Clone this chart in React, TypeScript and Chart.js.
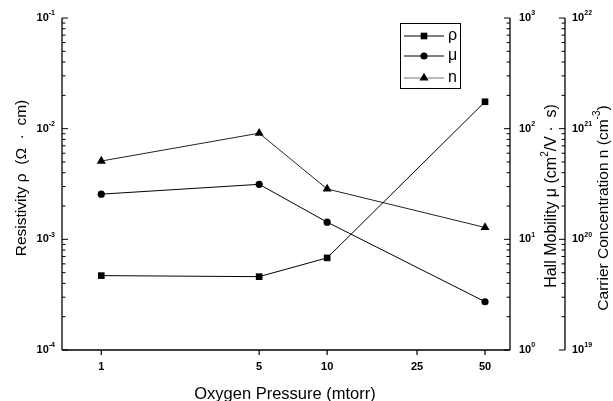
import React, { useEffect, useRef } from 'react';
import { Chart, registerables } from 'chart.js';

Chart.register(...registerables);

// ---- data ----
const pressures = [1, 5, 10, 50];
const xTickValues = [1, 5, 10, 25, 50];
const xTickLabels = ['1', '5', '10', '25', '50'];
const resistivity = [4.7e-4, 4.6e-4, 6.8e-4, 1.75e-2];
const mobility = [25.6, 31.4, 14.3, 2.73];
const carrier = [5.1e20, 9.1e20, 2.85e20, 1.28e20];
const leftExps = [-4, -3, -2, -1];
const mobExps = [0, 1, 2, 3];
const carrierExps = [19, 20, 21, 22];
const legendLabels = ['ρ', 'μ', 'n'];

const FONT = '"Liberation Sans", Arial, Helvetica, sans-serif';

type Seg = { t: string; sup?: boolean };

function drawRich(ctx: CanvasRenderingContext2D, segs: Seg[], x: number, y: number, size: number, align: 'left' | 'right' | 'center', rotate: boolean, bold = false) {
  const w = bold ? 'bold ' : '';
  const fN = `${w}${size}px ${FONT}`;
  const fS = `${w}${Math.round(size * 0.65)}px ${FONT}`;
  ctx.save();
  ctx.translate(x, y);
  if (rotate) ctx.rotate(-Math.PI / 2);
  let total = 0;
  const widths = segs.map((s) => {
    ctx.font = s.sup ? fS : fN;
    const m = ctx.measureText(s.t).width;
    total += m;
    return m;
  });
  let cx = align === 'left' ? 0 : align === 'right' ? -total : -total / 2;
  ctx.textAlign = 'left';
  ctx.textBaseline = 'middle';
  ctx.fillStyle = '#000';
  segs.forEach((s, i) => {
    ctx.font = s.sup ? fS : fN;
    ctx.fillText(s.t, cx, s.sup ? -size * 0.42 : 0);
    cx += widths[i];
  });
  ctx.restore();
}

function marker(ctx: CanvasRenderingContext2D, style: string, x: number, y: number) {
  ctx.beginPath();
  if (style === 'rect') {
    ctx.rect(x - 3.3, y - 3.3, 6.6, 6.6);
  } else if (style === 'circle') {
    ctx.arc(x, y, 3.6, 0, Math.PI * 2);
  } else {
    const r = 5.2;
    ctx.moveTo(x, y - r);
    ctx.lineTo(x + 0.866 * r, y + 0.5 * r);
    ctx.lineTo(x - 0.866 * r, y + 0.5 * r);
    ctx.closePath();
  }
  ctx.fill();
}

const axesPlugin = {
  id: 'axesPlugin',
  afterDraw(chart: any) {
    const ctx: CanvasRenderingContext2D = chart.ctx;
    const { left, right, top, bottom } = chart.chartArea;
    const sx = chart.scales.x;
    const sy = chart.scales.y;
    const sy1 = chart.scales.y1;
    const sy2 = chart.scales.y2;
    const y2x = sy2.left;
    ctx.save();
    ctx.strokeStyle = '#000';
    ctx.fillStyle = '#000';
    ctx.lineWidth = 1.3;
    const line = (a: number, b: number, c: number, d: number) => {
      ctx.beginPath();
      ctx.moveTo(a, b);
      ctx.lineTo(c, d);
      ctx.stroke();
    };
    line(left, top, left, bottom);
    line(left, bottom, right, bottom);
    line(right, top, right, bottom);
    line(y2x, top, y2x, bottom);

    const logTicks = (scale: any, ax: number, dir: number, exps: number[]) => {
      ctx.lineWidth = 1;
      exps.forEach((e, i) => {
        const p = scale.getPixelForValue(Math.pow(10, e));
        line(ax, p, ax + dir * 6, p);
        if (i < exps.length - 1) {
          for (let k = 2; k <= 9; k++) {
            const q = scale.getPixelForValue(k * Math.pow(10, e));
            line(ax, q, ax + dir * 3.5, q);
          }
        }
      });
    };
    logTicks(sy, left, 1, leftExps);
    logTicks(sy1, right, -1, mobExps);
    logTicks(sy2, y2x, -1, carrierExps);

    // x ticks
    ctx.lineWidth = 1.2;
    xTickValues.forEach((v, i) => {
      const p = sx.getPixelForValue(v);
      line(p, bottom, p, bottom + 5);
      drawRich(ctx, [{ t: xTickLabels[i] }], p, bottom + 17, 11, 'center', false, true);
    });

    // y tick labels
    leftExps.forEach((e) => {
      const p = sy.getPixelForValue(Math.pow(10, e));
      drawRich(ctx, [{ t: '10' }, { t: String(e), sup: true }], left - 7, p, 11, 'right', false, true);
    });
    mobExps.forEach((e) => {
      const p = sy1.getPixelForValue(Math.pow(10, e));
      drawRich(ctx, [{ t: '10' }, { t: String(e), sup: true }], right + 9, p, 11, 'left', false, true);
    });
    carrierExps.forEach((e) => {
      const p = sy2.getPixelForValue(Math.pow(10, e));
      drawRich(ctx, [{ t: '10' }, { t: String(e), sup: true }], y2x + 7, p, 11, 'left', false, true);
    });

    // titles
    drawRich(ctx, [{ t: 'Oxygen Pressure (mtorr)' }], 285, bottom + 44, 16.5, 'center', false);
    drawRich(ctx, [{ t: 'Resistivity ρ  (Ω  ·  cm)' }], 22, 178, 15.5, 'center', true);
    drawRich(ctx, [{ t: 'Hall Mobility μ (cm' }, { t: '2', sup: true }, { t: '/V ·  s)' }], 552, 196, 16, 'center', true);
    drawRich(ctx, [{ t: 'Carrier Concentration n (cm' }, { t: '-3', sup: true }, { t: ')' }], 604, 208, 15.5, 'center', true);

    // legend
    ctx.lineWidth = 1;
    ctx.strokeStyle = '#000';
    ctx.strokeRect(400.5, 23.5, 60, 65);
    const styles = ['rect', 'circle', 'triangle'];
    const colors = ['#000', '#000', '#777'];
    const ys = [36, 56, 78];
    styles.forEach((st, i) => {
      ctx.strokeStyle = colors[i];
      ctx.lineWidth = 1.2;
      line(404, ys[i], 444, ys[i]);
      ctx.fillStyle = '#000';
      marker(ctx, st, 424, ys[i]);
      drawRich(ctx, [{ t: legendLabels[i] }], 448, ys[i], 16, 'left', false);
    });
    ctx.restore();
  },
};

export default function App() {
  const ref = useRef<HTMLCanvasElement | null>(null);
  useEffect(() => {
    document.body.style.margin = '0';
    const canvas = ref.current;
    if (!canvas) return;
    const mk = (vals: number[]) => pressures.map((p, i) => ({ x: p, y: vals[i] }));
    const chart = new Chart(canvas, {
      type: 'line',
      data: {
        datasets: [
          {
            label: 'ρ',
            data: mk(resistivity),
            yAxisID: 'y',
            borderColor: '#000',
            backgroundColor: '#000',
            borderWidth: 1,
            pointStyle: 'rect',
            pointRadius: 4.7,
            pointBackgroundColor: '#000',
            pointBorderWidth: 0,
          },
          {
            label: 'μ',
            data: mk(mobility),
            yAxisID: 'y1',
            borderColor: '#000',
            backgroundColor: '#000',
            borderWidth: 1,
            pointStyle: 'circle',
            pointRadius: 3.6,
            pointBackgroundColor: '#000',
            pointBorderWidth: 0,
          },
          {
            label: 'n',
            data: mk(carrier),
            yAxisID: 'y2',
            borderColor: '#222',
            backgroundColor: '#000',
            borderWidth: 1,
            pointStyle: 'triangle',
            pointRadius: 5.2,
            pointBackgroundColor: '#000',
            pointBorderWidth: 0,
          },
        ],
      },
      options: {
        responsive: false,
        animation: false,
        devicePixelRatio: 1,
        layout: { padding: { top: 18, left: 0, right: 0, bottom: 0 } },
        plugins: { legend: { display: false }, tooltip: { enabled: false } },
        scales: {
          x: {
            type: 'logarithmic',
            min: 0.67,
            max: 64.5,
            ticks: { display: false },
            grid: { display: false },
            border: { display: false },
            afterFit: (s: any) => { s.height = 51; },
          },
          y: {
            type: 'logarithmic',
            position: 'left',
            min: 1e-4,
            max: 1e-1,
            ticks: { display: false },
            grid: { display: false },
            border: { display: false },
            afterFit: (s: any) => { s.width = 62; },
          },
          y1: {
            type: 'logarithmic',
            position: 'right',
            weight: 1,
            min: 1,
            max: 1000,
            ticks: { display: false },
            grid: { display: false },
            border: { display: false },
            afterFit: (s: any) => { s.width = 55; },
          },
          y2: {
            type: 'logarithmic',
            position: 'right',
            weight: 2,
            min: 1e19,
            max: 1e22,
            ticks: { display: false },
            grid: { display: false },
            border: { display: false },
            afterFit: (s: any) => { s.width = 48; },
          },
        },
      } as any,
      plugins: [axesPlugin],
    });
    return () => chart.destroy();
  }, []);
  return <canvas ref={ref} width={613} height={401} style={{ display: 'block' }} />;
}
